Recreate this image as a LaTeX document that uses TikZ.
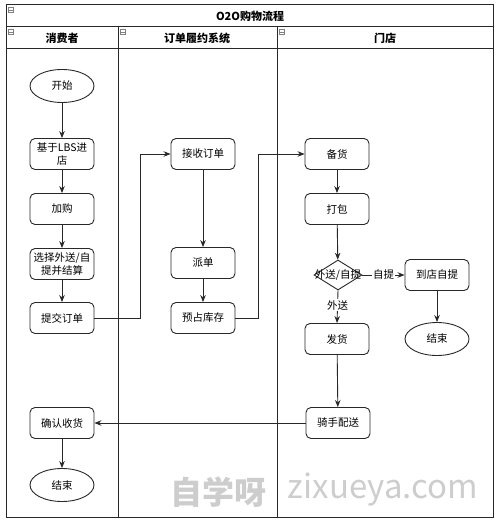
\documentclass[tikz,border=0pt]{standalone}
\usepackage{fontspec}
\setmainfont{Noto Sans CJK SC}
\usetikzlibrary{shapes.geometric,arrows.meta}
\definecolor{ln}{RGB}{40,40,40}
\definecolor{wm}{RGB}{205,205,205}
\begin{document}
\begin{tikzpicture}[x=1pt,y=-1pt,
  every node/.style={text=black},
  frame/.style={draw=ln, line width=1pt},
  box/.style={draw=ln, line width=0.9pt, rounded corners=5pt, minimum width=64pt, minimum height=31pt, align=center, inner sep=1pt, font=\fontsize{10.5}{12.5}\selectfont},
  term/.style={draw=ln, line width=0.9pt, ellipse, minimum width=64pt, minimum height=33pt, inner sep=0pt, font=\fontsize{10.5}{12.5}\selectfont},
  arr/.style={draw=ln, line width=0.9pt, -{Stealth[length=7pt,width=5.5pt]}},
  lbl/.style={fill=white, inner sep=1pt, font=\fontsize{10.5}{12.5}\selectfont},
  hdr/.style={font=\bfseries\fontsize{11}{13}\selectfont},
  icon/.style={draw=gray, line width=0.5pt, fill=white, minimum size=5pt, inner sep=0pt}
]
\useasboundingbox (0,0) rectangle (500,526);
% watermark
\node[text=wm, font=\bfseries\fontsize{32}{34}\selectfont] (wm1) at (218,492) {自学呀};
\node[text=wm, font=\fontsize{33}{35}\selectfont] (wm2) at (383,490) {zixueya.com};
% frame
\draw[frame] (6,5) rectangle (493,517);
\draw[frame] (6,27) -- (493,27);
\draw[frame] (6,49) -- (493,49);
\draw[frame] (118,27) -- (118,517);
\draw[frame] (277,27) -- (277,517);
% icons
\foreach \x/\y/\n in {11/10/i0, 11/32/i1, 123/32/i2, 282/32/i3}{
  \node[icon] (\n) at (\x,\y) {};
  \draw[gray, line width=0.5pt] ([xshift=1pt]\n.west) -- ([xshift=-1pt]\n.east);
}
% headers
\node[hdr] (title) at (250,16) {O2O购物流程};
\node[hdr] (h1) at (62,38) {消费者};
\node[hdr] (h2) at (197,38) {订单履约系统};
\node[hdr] (h3) at (385,38) {门店};
% consumer lane
\node[term] (start) at (62,86) {开始};
\node[box] (lbs) at (62,154) {基于LBS进\\店};
\node[box] (add) at (62,209) {加购};
\node[box] (choose) at (62,264) {选择外送/自\\提并结算};
\node[box] (submit) at (62,318) {提交订单};
\node[box] (confirm) at (62,423) {确认收货};
\node[term] (end1) at (62,485) {结束};
% system lane
\node[box] (recv) at (203,154) {接收订单};
\node[box] (dispatch) at (203,263) {派单};
\node[box] (reserve) at (203,318) {预占库存};
% store lane
\node[box] (prep) at (337,154) {备货};
\node[box] (pack) at (337,209) {打包};
\node[diamond, draw=ln, line width=0.9pt, minimum width=48pt, minimum height=30pt, inner sep=0pt, label={[font=\fontsize{10.5}{12.5}\selectfont]center:外送/自提}] (dec) at (338,275) {};
\node[box] (pickup) at (437,275) {到店自提};
\node[term] (end2) at (437,339) {结束};
\node[box] (ship) at (337,339) {发货};
\node[box] (rider) at (338,423) {骑手配送};
% coordinates
\coordinate (c1) at (140,318);
\coordinate (c2) at (258,318);
% edges
\draw[arr] (start) -- (lbs);
\draw[arr] (lbs) -- (add);
\draw[arr] (add) -- (choose);
\draw[arr] (choose) -- (submit);
\draw[arr] (submit.east) -- (c1) |- (recv.west);
\draw[arr] (recv) -- (dispatch);
\draw[arr] (dispatch) -- (reserve);
\draw[arr] (reserve.east) -- (c2) |- (prep.west);
\draw[arr] (prep) -- (pack);
\draw[arr] (pack) -- (dec);
\draw[arr] (dec.east) -- node[lbl] {自提} (pickup.west);
\draw[arr] (dec.south) -- node[lbl, pos=0.45] {外送} (ship.north);
\draw[arr] (pickup) -- (end2);
\draw[arr] (ship) -- (rider);
\draw[arr] (rider.west) -- (confirm.east);
\draw[arr] (confirm) -- (end1);
\end{tikzpicture}
\end{document}
